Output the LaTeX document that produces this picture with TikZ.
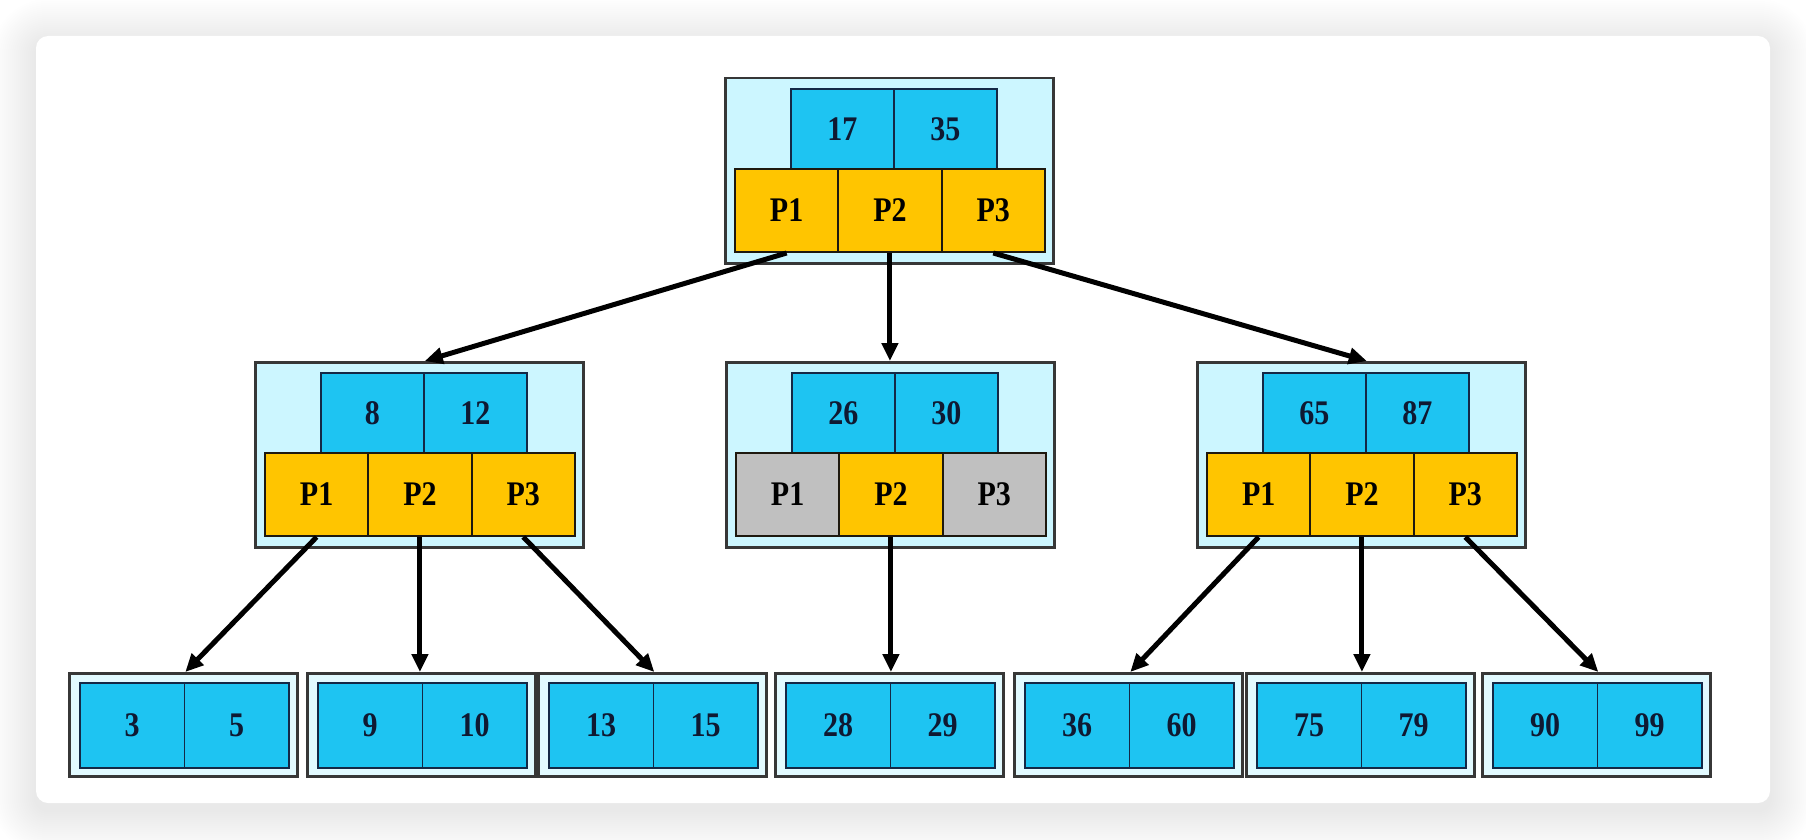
\documentclass[tikz,border=0pt]{standalone}
\usepackage{fontspec}
\setmainfont{Liberation Serif}
\usepackage{graphicx}
\usetikzlibrary{arrows.meta}
\definecolor{keyc}{RGB}{30,196,242}
\definecolor{ptrc}{RGB}{255,197,0}
\definecolor{grayc}{RGB}{192,192,192}
\definecolor{nodebg}{RGB}{204,246,255}
\definecolor{leafbg}{RGB}{226,250,255}
\definecolor{bordc}{RGB}{55,55,55}
\definecolor{keyb}{RGB}{20,40,70}
\definecolor{keyt}{RGB}{15,25,50}
\definecolor{ptrb}{RGB}{30,25,15}
\newcommand\cellt[1]{\scalebox{1}[1.15]{#1}}
\tikzset{
  outerbox/.style={draw=bordc, line width=2.5pt, fill=nodebg, anchor=north west,
    minimum width=328pt, minimum height=185pt, inner sep=0pt},
  leafbox/.style={draw=bordc, line width=2.5pt, fill=leafbg, anchor=north west,
    minimum width=228pt, minimum height=103pt, inner sep=0pt},
  cellfont/.style={font=\fontsize{30}{30}\selectfont\bfseries},
  keycell/.style={draw=keyb, line width=1.8pt, fill=keyc, anchor=north west,
    minimum width=103pt, minimum height=80pt, inner sep=0pt, text=keyt, cellfont},
  ptrcell/.style={draw=ptrb, line width=2pt, fill=ptrc, anchor=north west,
    minimum width=103.3pt, minimum height=83pt, inner sep=0pt, text=black, cellfont},
  leafcell/.style={draw=keyb, line width=1.8pt, fill=keyc, anchor=north west,
    minimum width=104.5pt, minimum height=85pt, inner sep=0pt, text=keyt, cellfont},
  link/.style={draw=black, line width=5pt, -{Triangle[length=18pt,width=16pt]}},
}
% name, left, top, key1, key2, fill p1, fill p3
\newcommand\inode[7]{%
  \node[outerbox] (#1) at (#2,#3) {};
  \node[keycell] (#1-k1) at (#2+66,#3+11) {\cellt{#4}};
  \node[keycell] (#1-k2) at (#2+169,#3+11) {\cellt{#5}};
  \node[ptrcell,fill=#6] (#1-p1) at (#2+10,#3+91) {\cellt{P1}};
  \node[ptrcell] (#1-p2) at (#2+113.3,#3+91) {\cellt{P2}};
  \node[ptrcell,fill=#7] (#1-p3) at (#2+216.6,#3+91) {\cellt{P3}};
}
% name, left, key a, key b
\newcommand\lnode[4]{%
  \node[leafbox] (#1) at (#2,672) {};
  \node[leafcell] (#1-a) at (#2+11,682) {\cellt{#3}};
  \node[leafcell] (#1-b) at (#2+115.5,682) {\cellt{#4}};
}
\begin{document}
\begin{tikzpicture}[x=1pt,y=-1pt]
\useasboundingbox (0,0) rectangle (1806,840);
\fill[white] (0,0) rectangle (1806,840);
\foreach \i in {1,...,22} {
  \pgfmathsetmacro\rr{12+\i*2}
  \pgfmathsetmacro\dd{\i*2}
  \fill[black, opacity=0.0055, rounded corners=\rr pt]
    (36-\dd, 36-\dd+7) rectangle (1770+\dd, 803+\dd+7);
}
\fill[white, rounded corners=12pt] (36,36) rectangle (1770,803);

\inode{t}{724}{77}{17}{35}{ptrc}{ptrc}
\inode{ml}{254}{361}{8}{12}{ptrc}{ptrc}
\inode{mm}{725}{361}{26}{30}{grayc}{grayc}
\inode{mr}{1196}{361}{65}{87}{ptrc}{ptrc}

\lnode{a1}{68}{3}{5}
\lnode{a2}{306}{9}{10}
\lnode{a3}{537}{13}{15}
\lnode{a4}{774}{28}{29}
\lnode{a5}{1013}{36}{60}
\lnode{a6}{1245}{75}{79}
\lnode{a7}{1481}{90}{99}

\draw[link] (t-p1.south) -- (ml-k1.east |- ml.north);
\draw[link] (t-p2.south) -- (t-p2.south |- mm.north);
\draw[link] (t-p3.south) -- (mr-k1.east |- mr.north);

\draw[link] (ml-p1.south) -- (a1-a.east |- a1.north);
\draw[link] (ml-p2.south) -- (ml-p2.south |- a2.north);
\draw[link] (ml-p3.south) -- (a3-a.east |- a3.north);
\draw[link] (mm-p2.south) -- (mm-p2.south |- a4.north);
\draw[link] (mr-p1.south) -- (a5-a.east |- a5.north);
\draw[link] (mr-p2.south) -- (mr-p2.south |- a6.north);
\draw[link] (mr-p3.south) -- (a7-a.east |- a7.north);
\end{tikzpicture}
\end{document}
